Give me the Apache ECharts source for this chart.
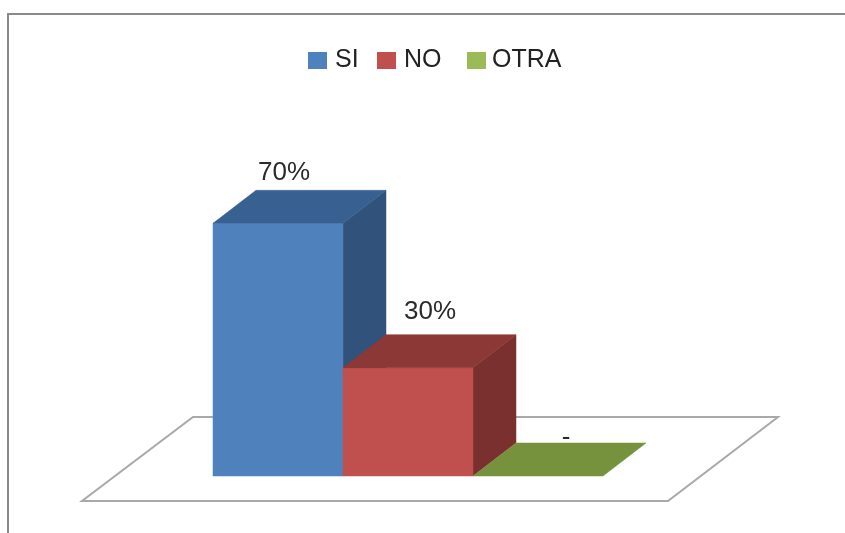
<!DOCTYPE html>
<html>
<head>
<meta charset="utf-8">
<style>html,body{margin:0;padding:0;background:#fff}#c{width:845px;height:533px}</style>
<script src="https://cdn.jsdelivr.net/npm/echarts@6/dist/echarts.min.js"></script>
</head>
<body>
<div id="c"></div>
<script>
const categories = ['SI', 'NO', 'OTRA'];
const values = [70, 30, 0];
const valueLabels = ['70%', '30%', '-'];
const frontColors = ['#4f81bd', '#c0504d', '#9bbb59'];
const topColors = ['#386192', '#8c3836', '#76923c'];
const sideColors = ['#31527b', '#7a302e', '#647c33'];
const labelShift = [[6, -50], [22, -56], [28, -38]];
const legendLeft = [308, 377, 467];
const legendTextPad = [3, 3, 1];
const depth = [43, -33];
const font = '26px "Liberation Sans", Arial, sans-serif';

function poly(points, fill) {
  return { type: 'polygon', shape: { points }, style: { fill, stroke: fill, lineWidth: 0.5 } };
}

function renderBar(i) {
  return function (params, api) {
    const top = api.coord([api.value(0), api.value(1)]);
    const base = api.coord([api.value(0), 0]);
    const w = api.size([1, 0])[0];
    const l = top[0] - w / 2, r = top[0] + w / 2;
    const t = top[1], b = base[1];
    const dx = depth[0], dy = depth[1];
    const children = [];
    if (b - t > 0.5) {
      children.push(poly([[r, t], [r + dx, t + dy], [r + dx, b + dy], [r, b]], sideColors[i]));
      children.push(poly([[l, t], [r, t], [r, b], [l, b]], frontColors[i]));
    }
    children.push(poly([[l, t], [l + dx, t + dy], [r + dx, t + dy], [r, t]], topColors[i]));
    children.push({
      type: 'text',
      style: {
        x: top[0] + labelShift[i][0], y: t + labelShift[i][1],
        text: valueLabels[i], font, fill: '#2b2b2b',
        align: 'center', verticalAlign: 'middle'
      }
    });
    return { type: 'group', children };
  };
}

function renderFloor(params, api) {
  const c = api.coord([api.value(0), 0]);
  const x = c[0], y = c[1];
  return {
    type: 'polygon',
    shape: { points: [[x - 326, y + 25], [x + 260, y + 25], [x + 370, y - 59], [x - 215, y - 59]] },
    style: { fill: '#fff', stroke: '#a9a9a9', lineWidth: 2 }
  };
}

const chart = echarts.init(document.getElementById('c'), null, { renderer: 'canvas' });
chart.setOption({
  animation: false,
  backgroundColor: '#fff',
  grid: { left: 213, width: 390, top: 115, height: 361 },
  xAxis: { type: 'category', data: categories, show: false },
  yAxis: { type: 'value', min: 0, max: 100, show: false },
  legend: categories.map((name, i) => ({
    data: [name],
    left: legendLeft[i], top: 48, padding: 0,
    itemWidth: 19, itemHeight: 17,
    icon: 'rect',
    textStyle: { fontFamily: '"Liberation Sans", Arial, sans-serif', fontSize: 25, color: '#222', padding: [17, 0, 0, legendTextPad[i]] }
  })),
  graphic: [
    { type: 'polyline', silent: true, shape: { points: [[8, 533], [8, 14], [845, 14]] },
      style: { fill: null, stroke: '#8a8a8a', lineWidth: 2 } }
  ],
  series: [
    { type: 'custom', name: 'floor', z: 1, silent: true, renderItem: renderFloor, data: [[1, 0]], encode: { x: 0, y: 1 } }
  ].concat(categories.map((name, i) => ({
    type: 'custom', name, z: 2 + i, silent: true,
    itemStyle: { color: frontColors[i] },
    renderItem: renderBar(i),
    data: [[i, values[i]]],
    encode: { x: 0, y: 1 }
  })))
});
</script>
</body>
</html>
